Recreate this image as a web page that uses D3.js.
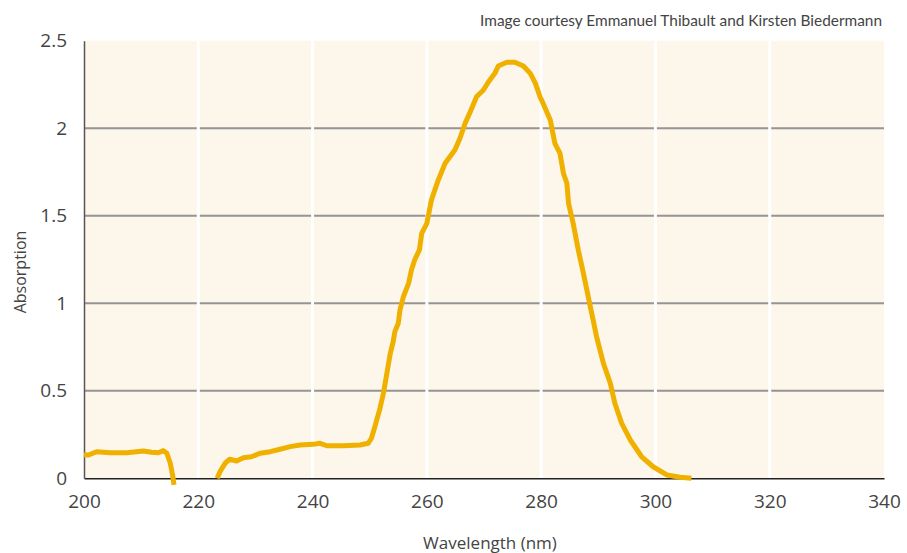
<!DOCTYPE html>
<html>
<head>
<meta charset="utf-8">
<script src="https://cdn.jsdelivr.net/npm/d3@7"></script>
<style>
	body { margin: 0; background: #fff; }
	text { font-family: "Open Sans", sans-serif; fill: #444; }
</style>
</head>
<body>
<div id="plot"></div>
<script>
const svgWidth = 907;
const svgHeight = 553;
const margin = {top: 40.8, right: 23, bottom: 74.7, left: 84};

const wavelength = [200.0, 200.8, 202.2, 204.6, 207.5, 210.4, 211.8, 213.0, 213.9, 214.5, 215.1, 215.5, 215.75,
	219,
	223.3, 223.8, 224.7, 225.5, 226.7, 227.9, 229.3, 230.8, 232.6, 234.3, 236.1, 237.8, 240.1, 241.3, 242.5,
	245.4, 248.3, 249.75, 250.3, 250.9, 251.8, 252.4, 253.0, 253.6, 254.1, 254.4, 255.0, 255.3, 255.9, 256.8,
	257.3, 257.9, 258.7, 259.1, 260.0, 260.8, 262.0, 263.2, 264.9, 265.8, 266.7, 267.6, 268.7, 269.9, 270.8,
	271.9, 272.5, 274.0, 275.4, 276.9, 278.1, 279.0, 279.8, 280.1, 281.6, 282.4, 283.3, 283.9, 284.5, 284.8,
	285.6, 286.5, 287.4, 288.0, 288.6, 289.1, 289.7, 290.0, 290.9, 292.1, 292.9, 294.1, 295.6, 297.6, 299.6,
	302.0, 304.3, 306.3];
const absorption = [0.135, 0.133, 0.152, 0.146, 0.146, 0.156, 0.149, 0.146, 0.158, 0.143, 0.086, 0.019, -0.038,
	null,
	0.0, 0.038, 0.086, 0.109, 0.099, 0.118, 0.123, 0.143, 0.152, 0.166, 0.181, 0.190, 0.194, 0.200, 0.186,
	0.186, 0.190, 0.200, 0.229, 0.295, 0.400, 0.486, 0.600, 0.714, 0.780, 0.838, 0.886, 0.962, 1.038, 1.114,
	1.190, 1.250, 1.305, 1.400, 1.457, 1.590, 1.705, 1.800, 1.876, 1.943, 2.029, 2.095, 2.180, 2.219, 2.266,
	2.314, 2.356, 2.377, 2.377, 2.356, 2.314, 2.257, 2.180, 2.160, 2.047, 1.914, 1.857, 1.743, 1.686, 1.571,
	1.457, 1.305, 1.171, 1.076, 0.981, 0.905, 0.809, 0.771, 0.657, 0.543, 0.429, 0.314, 0.219, 0.123, 0.066,
	0.019, 0.006, 0.0];

const xTicks = [200, 220, 240, 260, 280, 300, 320, 340];
const yTicks = [0, 0.5, 1, 1.5, 2, 2.5];

const credit = "Image courtesy Emmanuel Thibault and Kirsten Biedermann";
const xLabel = "Wavelength (nm)";
const yLabel = "Absorption";

var svg = d3.select("#plot")
	.append("svg")
	.attr("width", svgWidth)
	.attr("height", svgHeight);

var x = d3.scaleLinear()
	.domain([200, 340])
	.range([margin.left, svgWidth - margin.right]);

var y = d3.scaleLinear()
	.domain([0, 2.5])
	.range([svgHeight - margin.bottom, margin.top]);

// plot background
svg.append("rect")
	.attr("x", x(200))
	.attr("y", y(2.5))
	.attr("width", x(340) - x(200))
	.attr("height", y(0) - y(2.5))
	.attr("fill", "#fdf6ea");

// horizontal grid
svg.append("g")
	.selectAll("line")
	.data(yTicks.filter(d => d > 0 && d < 2.5))
	.enter()
	.append("line")
		.attr("x1", x(200))
		.attr("x2", x(340))
		.attr("y1", d => y(d))
		.attr("y2", d => y(d))
		.attr("stroke", "#949494")
		.attr("stroke-width", 2);

// vertical grid (white)
svg.append("g")
	.selectAll("line")
	.data(xTicks.filter(d => d > 200 && d < 340))
	.enter()
	.append("line")
		.attr("x1", d => x(d))
		.attr("x2", d => x(d))
		.attr("y1", y(2.5))
		.attr("y2", y(0))
		.attr("stroke", "#ffffff")
		.attr("stroke-width", 3);

// X axis
var xAxis = svg.append("g")
	.attr("transform", "translate(0," + y(0) + ")")
	.call(d3.axisBottom(x).tickValues(xTicks).tickSize(0).tickPadding(16).tickFormat(d3.format("d")));
xAxis.select(".domain").attr("stroke", "#222").attr("stroke-width", 1.5);
xAxis.selectAll("text").style("font-size", "19px").attr("fill", "#444").attr("font-family", "Open Sans");

// Y axis
var yAxis = svg.append("g")
	.attr("transform", "translate(" + x(200) + ",0)")
	.call(d3.axisLeft(y).tickValues(yTicks).tickSize(0).tickPadding(17).tickFormat(d => d));
yAxis.select(".domain").attr("stroke", "#5a5454").attr("stroke-width", 1.5);
yAxis.selectAll("text").style("font-size", "19px").attr("fill", "#444").attr("font-family", "Open Sans");

// labels
svg.append("text")
	.attr("x", 490)
	.attr("y", 549)
	.attr("text-anchor", "middle")
	.style("font-size", "17px")
	.text(xLabel);

svg.append("text")
	.attr("transform", "translate(26,272) rotate(-90)")
	.attr("text-anchor", "middle")
	.style("font-size", "16px")
	.text(yLabel);

svg.append("text")
	.attr("x", 882)
	.attr("y", 26)
	.attr("text-anchor", "end")
	.style("font-size", "15.4px")
	.style("font-family", "Lato")
	.attr("fill", "#555")
	.text(credit);

// the spectrum
var points = wavelength.map((w, i) => [w, absorption[i]]);

var line = d3.line()
	.defined(d => d[1] !== null)
	.x(d => x(d[0]))
	.y(d => y(d[1]));

svg.append("path")
	.datum(points)
	.attr("d", line)
	.attr("fill", "none")
	.attr("stroke", "#efb000")
	.attr("stroke-width", 5)
	.attr("stroke-linejoin", "round");
</script>
</body>
</html>
